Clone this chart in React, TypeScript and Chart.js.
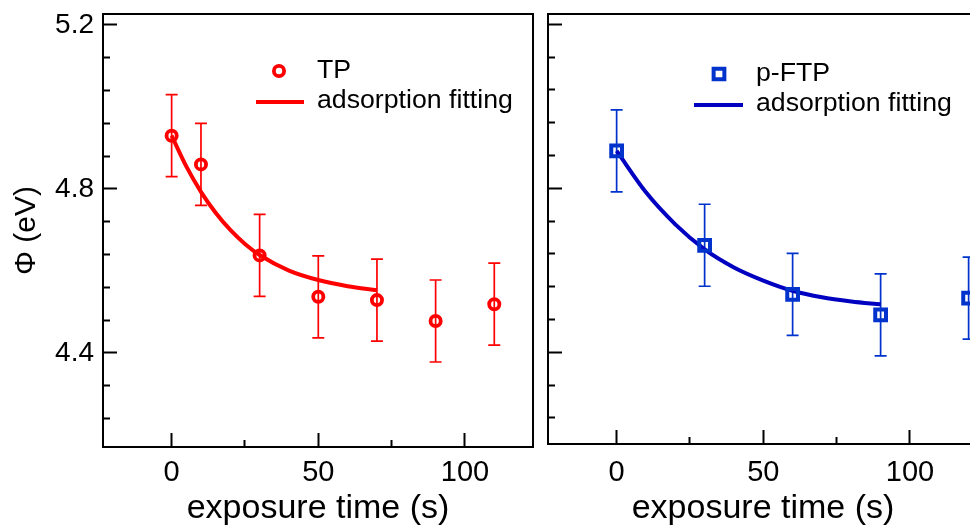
import React, { useEffect, useRef } from 'react';
import { Chart, registerables } from 'chart.js';

Chart.register(...registerables);

// ---------- data ----------
const tpTime = [0, 10, 30, 50, 70, 90, 110];
const tpPhi = [4.930, 4.860, 4.638, 4.537, 4.529, 4.478, 4.519];
const tpErr = [0.10, 0.10, 0.10, 0.10, 0.10, 0.10, 0.10];
const tpFitTime = [0, 5, 10, 15, 20, 25, 30, 40, 50, 60, 70];
const tpFitPhi = [4.930, 4.855, 4.793, 4.742, 4.700, 4.666, 4.639, 4.601, 4.578, 4.563, 4.553];

const pftpTime = [0, 30, 60, 90, 120];
const pftpPhi = [4.891, 4.661, 4.541, 4.491, 4.532];
const pftpErr = [0.10, 0.10, 0.10, 0.10, 0.10];
const pftpFitTime = [0, 10, 20, 30, 40, 50, 60, 70, 80, 90];
const pftpFitPhi = [4.891, 4.790, 4.712, 4.651, 4.607, 4.575, 4.550, 4.534, 4.524, 4.517];

const xTickValues = [0, 25, 50, 75, 100];
const xMajorTicks = [0, 50, 100];
const yTickValues = [4.24, 4.32, 4.40, 4.48, 4.56, 4.64, 4.72, 4.80, 4.88, 4.96, 5.04, 5.12, 5.20];
const yMajorTicks = [4.4, 4.8, 5.2];

const seriesNames = ['TP', 'p-FTP'];
const fitName = 'adsorption fitting';
const xTitle = 'exposure time (s)';
const yTitle = 'Φ (eV)';

// ---------- styles ----------
const FONT = "'Liberation Sans', Arial, Helvetica, sans-serif";
const X_MIN = -23.4;
const X_MAX = 123.2;

const isIn = (v: number, arr: number[]) => arr.some((m) => Math.abs(m - v) < 1e-6);

type Spec = {
  name: string;
  time: number[];
  phi: number[];
  err: number[];
  fitTime: number[];
  fitPhi: number[];
  pointStyle: 'circle' | 'rect';
  pointRadius: number;
  pointBorder: number;
  markerColor: string;
  lineColor: string;
  canvasLeft: number;
  width: number;
  padRight: number;
  yWidth: number;
  xHeight: number;
  yMin: number;
  yMax: number;
  showY: boolean;
  xPad: number;
  legend: { mx: number; my: number; lx1: number; lx2: number; ly: number; tx: number; r1: number; r2: number };
};

const HEIGHT = 529;

function makeChart(canvas: HTMLCanvasElement, s: Spec) {
  const errorBars = {
    id: 'errorBars',
    beforeDatasetsDraw(chart: any) {
      const { ctx } = chart;
      const xs = chart.scales.x;
      const ys = chart.scales.y;
      ctx.save();
      ctx.strokeStyle = s.markerColor;
      ctx.lineWidth = 1.7;
      const cap = 6;
      s.time.forEach((t, i) => {
        const x = xs.getPixelForValue(t);
        const y1 = ys.getPixelForValue(s.phi[i] + s.err[i]);
        const y2 = ys.getPixelForValue(s.phi[i] - s.err[i]);
        ctx.beginPath();
        ctx.moveTo(x, y1);
        ctx.lineTo(x, y2);
        ctx.moveTo(x - cap, y1);
        ctx.lineTo(x + cap, y1);
        ctx.moveTo(x - cap, y2);
        ctx.lineTo(x + cap, y2);
        ctx.stroke();
      });
      ctx.restore();
    },
  };

  const frame = {
    id: 'frame',
    afterDraw(chart: any) {
      const { ctx, chartArea: a } = chart;
      ctx.save();
      ctx.strokeStyle = '#000';
      ctx.lineWidth = 2;
      ctx.beginPath();
      ctx.moveTo(a.left, a.top);
      ctx.lineTo(a.right, a.top);
      ctx.lineTo(a.right, a.bottom);
      ctx.stroke();
      ctx.restore();
    },
  };

  const legend = {
    id: 'customLegend',
    afterDraw(chart: any) {
      const { ctx, chartArea: a } = chart;
      const L = s.legend;
      ctx.save();
      ctx.strokeStyle = s.markerColor;
      ctx.lineWidth = s.pointBorder;
      const mx = a.left + L.mx;
      const my = a.top + L.my;
      ctx.beginPath();
      if (s.pointStyle === 'circle') {
        ctx.arc(mx, my, s.pointRadius, 0, Math.PI * 2);
      } else {
        const h = s.pointRadius * Math.SQRT1_2;
        ctx.rect(mx - h, my - h, 2 * h, 2 * h);
      }
      ctx.stroke();
      ctx.strokeStyle = s.lineColor;
      ctx.lineWidth = 4;
      ctx.beginPath();
      ctx.moveTo(a.left + L.lx1, a.top + L.ly);
      ctx.lineTo(a.left + L.lx2, a.top + L.ly);
      ctx.stroke();
      ctx.fillStyle = '#000';
      ctx.font = `26.7px ${FONT}`;
      ctx.textAlign = 'left';
      ctx.textBaseline = 'middle';
      ctx.fillText(s.name, a.left + L.tx, a.top + L.r1);
      ctx.fillText(fitName, a.left + L.tx, a.top + L.r2);
      ctx.restore();
    },
  };

  return new Chart(canvas, {
    type: 'scatter',
    data: {
      datasets: [
        {
          label: s.name,
          data: s.time.map((t, i) => ({ x: t, y: s.phi[i] })),
          pointStyle: s.pointStyle,
          pointRadius: s.pointRadius,
          pointBorderWidth: s.pointBorder,
          borderColor: s.markerColor,
          backgroundColor: 'rgba(0,0,0,0)',
          pointBackgroundColor: 'rgba(0,0,0,0)',
          showLine: false,
          order: 1,
        },
        {
          label: fitName,
          data: s.fitTime.map((t, i) => ({ x: t, y: s.fitPhi[i] })),
          showLine: true,
          pointRadius: 0,
          borderColor: s.lineColor,
          borderWidth: 4,
          cubicInterpolationMode: 'monotone',
          order: 2,
        },
      ],
    },
    options: {
      responsive: false,
      animation: false,
      devicePixelRatio: 1,
      layout: { autoPadding: false, padding: { left: 0, right: s.padRight, top: 14, bottom: 0 } },
      plugins: { legend: { display: false }, tooltip: { enabled: false } },
      scales: {
        x: {
          type: 'linear',
          min: X_MIN,
          max: X_MAX,
          afterBuildTicks: (sc: any) => {
            sc.ticks = xTickValues.map((v) => ({ value: v }));
          },
          afterFit: (sc: any) => {
            sc.height = s.xHeight;
            sc.paddingLeft = 0;
            sc.paddingRight = 0;
            sc.paddingTop = 0;
            sc.paddingBottom = 0;
          },
          ticks: {
            autoSkip: false,
            maxRotation: 0,
            padding: s.xPad,
            color: '#000',
            font: { family: FONT, size: 29 },
            callback: (v: any) => (isIn(Number(v), xMajorTicks) ? String(v) : ''),
          },
          grid: {
            drawOnChartArea: false,
            drawTicks: true,
            tickLength: -14,
            tickWidth: 2,
            tickColor: '#000',
            tickBorderDash: (c: any) => (c.tick && !isIn(c.tick.value, xMajorTicks) ? [8, 100] : []),
          },
          border: { display: true, color: '#000', width: 2 },
          title: {
            display: true,
            text: xTitle,
            color: '#000',
            font: { family: FONT, size: 34 },
            padding: { top: 0, bottom: 0 },
          },
        },
        y: {
          type: 'linear',
          min: s.yMin,
          max: s.yMax,
          afterBuildTicks: (sc: any) => {
            sc.ticks = yTickValues.map((v) => ({ value: v }));
          },
          afterFit: (sc: any) => {
            sc.width = s.yWidth;
            sc.paddingLeft = 0;
            sc.paddingRight = 0;
            sc.paddingTop = 0;
            sc.paddingBottom = 0;
          },
          ticks: {
            autoSkip: false,
            padding: 23,
            color: '#000',
            font: { family: FONT, size: 28 },
            callback: (v: any) => (s.showY && isIn(Number(v), yMajorTicks) ? Number(v).toFixed(1) : ''),
          },
          grid: {
            drawOnChartArea: false,
            drawTicks: true,
            tickLength: -14,
            tickWidth: 2,
            tickColor: '#000',
            tickBorderDash: (c: any) => (c.tick && !isIn(c.tick.value, yMajorTicks) ? [0, 7, 100, 0] : []),
          },
          border: { display: true, color: '#000', width: 2 },
          title: {
            display: s.showY,
            text: yTitle,
            color: '#000',
            font: { family: FONT, size: 30 },
            padding: { top: 9, bottom: 0 },
          },
        },
      },
    },
    plugins: [errorBars, frame, legend],
  } as any);
}

const leftSpec: Spec = {
  name: seriesNames[0],
  time: tpTime,
  phi: tpPhi,
  err: tpErr,
  fitTime: tpFitTime,
  fitPhi: tpFitPhi,
  pointStyle: 'circle',
  pointRadius: 5.1,
  pointBorder: 3.8,
  markerColor: '#ff0000',
  lineColor: '#ff0000',
  canvasLeft: 0,
  width: 540,
  padRight: 7,
  yWidth: 103,
  xHeight: 82,
  yMin: 4.1707,
  yMax: 5.2268,
  showY: true,
  xPad: 23,
  legend: { mx: 176, my: 57, lx1: 153, lx2: 201, ly: 88, tx: 214, r1: 57, r2: 87 },
};

const rightSpec: Spec = {
  name: seriesNames[1],
  time: pftpTime,
  phi: pftpPhi,
  err: pftpErr,
  fitTime: pftpFitTime,
  fitPhi: pftpFitPhi,
  pointStyle: 'rect',
  pointRadius: 7.6,
  pointBorder: 4,
  markerColor: '#0033cc',
  lineColor: '#0000c0',
  canvasLeft: 540,
  width: 440,
  padRight: 2,
  yWidth: 8,
  xHeight: 85,
  yMin: 4.1763,
  yMax: 5.225,
  showY: false,
  xPad: 26,
  legend: { mx: 171, my: 60, lx1: 146, lx2: 195, ly: 91, tx: 208, r1: 60, r2: 90 },
};

function Panel({ spec }: { spec: Spec }) {
  const ref = useRef<HTMLCanvasElement>(null);
  useEffect(() => {
    const chart = makeChart(ref.current as HTMLCanvasElement, spec);
    return () => chart.destroy();
  }, [spec]);
  return (
    <canvas
      ref={ref}
      width={spec.width}
      height={HEIGHT}
      style={{ position: 'absolute', left: spec.canvasLeft, top: 0, width: spec.width, height: HEIGHT }}
    />
  );
}

export default function App() {
  return (
    <div
      style={{
        position: 'fixed',
        left: 0,
        top: 0,
        width: 970,
        height: 529,
        overflow: 'hidden',
        background: '#fff',
      }}
    >
      <Panel spec={leftSpec} />
      <Panel spec={rightSpec} />
    </div>
  );
}
